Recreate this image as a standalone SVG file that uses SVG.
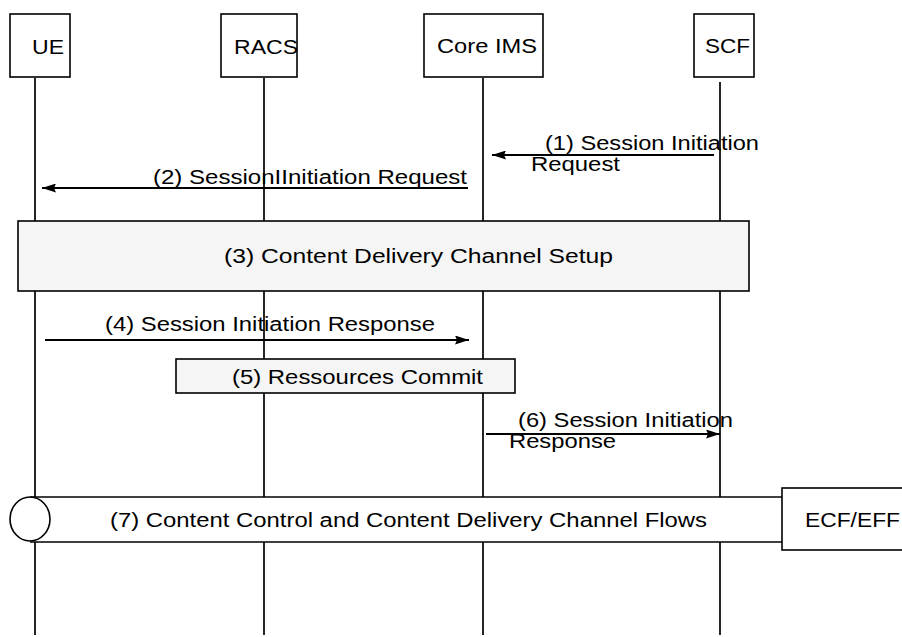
<svg xmlns="http://www.w3.org/2000/svg" width="902" height="637" viewBox="0 0 902 637">
<style>
text{font-family:"Liberation Sans",Arial,sans-serif;font-size:20px;fill:#000}
.box{fill:#fff;stroke:#000;stroke-width:1.6}
.grey{fill:#f5f5f5;stroke:#000;stroke-width:1.6}
.life{stroke:#000;stroke-width:1.7;fill:none}
.msg{stroke:#000;stroke-width:2;fill:none;marker-end:url(#ah)}
.band{stroke:#000;stroke-width:1.6;fill:none}
</style>
<defs>
<marker id="ah" viewBox="0 0 14 9" refX="14" refY="4.5" markerWidth="14" markerHeight="9" markerUnits="userSpaceOnUse" orient="auto">
<path d="M0,0 L14,4.5 L0,9 L2,4.5 Z" fill="#000"/>
</marker>
</defs>
<rect width="902" height="637" fill="#fff"/>

<g id="ue">
<line class="life" x1="35" y1="78" x2="35" y2="635"/>
<rect class="box" x="10" y="14" width="60" height="63"/>
<text x="32" y="54" textLength="32" lengthAdjust="spacingAndGlyphs">UE</text>
</g>
<g id="racs">
<line class="life" x1="264" y1="78" x2="264" y2="635"/>
<rect class="box" x="221" y="14" width="76" height="63"/>
<text x="234" y="54" textLength="64" lengthAdjust="spacingAndGlyphs">RACS</text>
</g>
<g id="core-ims">
<line class="life" x1="483" y1="78" x2="483" y2="635"/>
<rect class="box" x="424" y="14" width="119" height="63"/>
<text x="437" y="53" textLength="100" lengthAdjust="spacingAndGlyphs">Core IMS</text>
</g>
<g id="scf">
<line class="life" x1="720" y1="82" x2="720" y2="635"/>
<rect class="box" x="694" y="14" width="60" height="63"/>
<text x="705" y="53" textLength="45" lengthAdjust="spacingAndGlyphs">SCF</text>
</g>

<g id="step3">
<rect class="grey" x="18" y="221" width="731" height="70"/>
<text x="224" y="263" textLength="389" lengthAdjust="spacingAndGlyphs">(3) Content Delivery Channel Setup</text>
</g>
<g id="step5">
<rect class="grey" x="176" y="359" width="339" height="34"/>
<text x="232" y="384" textLength="251" lengthAdjust="spacingAndGlyphs">(5) Ressources Commit</text>
</g>
<g id="step7">
<rect x="30" y="497" width="752" height="45" fill="#fff"/>
<line class="band" x1="30" y1="497" x2="782" y2="497"/>
<line class="band" x1="30" y1="542" x2="782" y2="542"/>
<ellipse cx="30" cy="519" rx="20" ry="22" fill="#fff" stroke="#000" stroke-width="1.6"/>
<text x="110" y="527" textLength="597" lengthAdjust="spacingAndGlyphs">(7) Content Control and Content Delivery Channel Flows</text>
</g>
<g id="ecf-eff">
<rect class="box" x="782" y="488" width="130" height="62"/>
<text x="805" y="527" textLength="95" lengthAdjust="spacingAndGlyphs">ECF/EFF</text>
</g>

<g id="connectors">
<line class="msg" x1="714" y1="155" x2="492" y2="155"/>
<line class="msg" x1="468" y1="188" x2="42" y2="188"/>
<line class="msg" x1="45" y1="340" x2="469" y2="340"/>
<line class="msg" x1="486" y1="434" x2="720" y2="434"/>
</g>
<g id="labels">
<text x="545" y="150" textLength="214" lengthAdjust="spacingAndGlyphs">(1) Session Initiation</text>
<text x="531" y="171" textLength="89" lengthAdjust="spacingAndGlyphs">Request</text>
<text x="153" y="184" textLength="314" lengthAdjust="spacingAndGlyphs">(2) SessionIInitiation Request</text>
<text x="105" y="331" textLength="330" lengthAdjust="spacingAndGlyphs">(4) Session Initiation Response</text>
<text x="518" y="427" textLength="215" lengthAdjust="spacingAndGlyphs">(6) Session Initiation</text>
<text x="509" y="448" textLength="107" lengthAdjust="spacingAndGlyphs">Response</text>
</g>
</svg>
